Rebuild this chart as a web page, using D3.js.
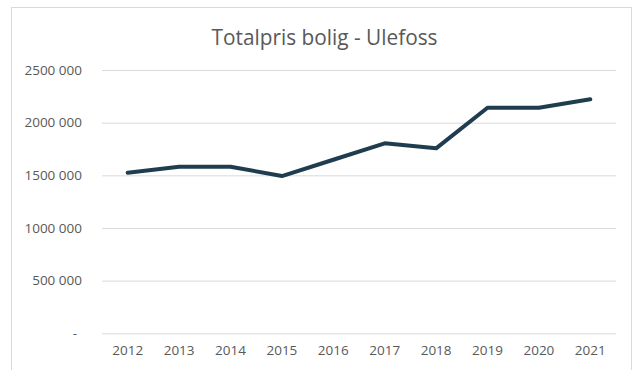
<!DOCTYPE html>
<html>
<head>
<meta charset="utf-8">
<script src="https://cdn.jsdelivr.net/npm/d3@7"></script>
<style>
  html, body { margin: 0; padding: 0; background: #ffffff; }
  svg { display: block; }
  text { font-family: "Open Sans", "Noto Sans", sans-serif; fill: #595959; }
</style>
</head>
<body>
<svg id="chart" width="640" height="370"></svg>
<script>
// Total housing price, Ulefoss, by year (NOK)
const years = ["2012", "2013", "2014", "2015", "2016", "2017", "2018", "2019", "2020", "2021"];
const prices = [1525000, 1582000, 1582000, 1493000, 1648000, 1804000, 1756000, 2142000, 2142000, 2222000];
const yTicks = [0, 500000, 1000000, 1500000, 2000000, 2500000];
const yTickLabels = ["-", "500 000", "1000 000", "1500 000", "2000 000", "2500 000"];
const chartTitle = "Totalpris bolig - Ulefoss";

const svg = d3.select("#chart");
const plot = { left: 102, right: 616, top: 70, bottom: 333.3 };

// chart area frame
svg.append("rect")
  .attr("x", 11.5).attr("y", 7.5)
  .attr("width", 620).attr("height", 380)
  .attr("fill", "#ffffff")
  .attr("stroke", "#d9d9d9").attr("stroke-width", 1);

const x = d3.scaleBand().domain(years).range([plot.left, plot.right]);
const y = d3.scaleLinear().domain([0, 2500000]).range([plot.bottom, plot.top]);

// horizontal gridlines + value labels
const yAxis = d3.axisLeft(y)
  .tickValues(yTicks)
  .tickSize(-(plot.right - plot.left))
  .tickPadding(20)
  .tickFormat((d, i) => yTickLabels[i]);

const gy = svg.append("g")
  .attr("transform", `translate(${plot.left},0)`)
  .call(yAxis);
gy.select(".domain").remove();
gy.selectAll(".tick line").attr("stroke", "#d9d9d9").attr("stroke-width", 1);
gy.selectAll(".tick text")
  .attr("fill", "#595959")
  .style("font-size", "13.5px")
  .attr("dx", d => d === 0 ? -5 : 0);

// category labels
const xAxis = d3.axisBottom(x).tickSize(0).tickPadding(12);
const gx = svg.append("g")
  .attr("transform", `translate(0,${plot.bottom})`)
  .call(xAxis);
gx.select(".domain").remove();
gx.selectAll(".tick text")
  .attr("fill", "#595959")
  .style("font-size", "13.5px");

// price line
const line = d3.line()
  .x((d, i) => x(years[i]) + x.bandwidth() / 2)
  .y(d => y(d));

svg.append("path")
  .datum(prices)
  .attr("d", line)
  .attr("fill", "none")
  .attr("stroke", "#203d50")
  .attr("stroke-width", 4)
  .attr("stroke-linejoin", "round")
  .attr("stroke-linecap", "round");

// title
svg.append("text")
  .attr("x", 324.5).attr("y", 45)
  .attr("text-anchor", "middle")
  .attr("textLength", 226)
  .attr("lengthAdjust", "spacingAndGlyphs")
  .style("font-size", "22px")
  .text(chartTitle);
</script>
</body>
</html>
